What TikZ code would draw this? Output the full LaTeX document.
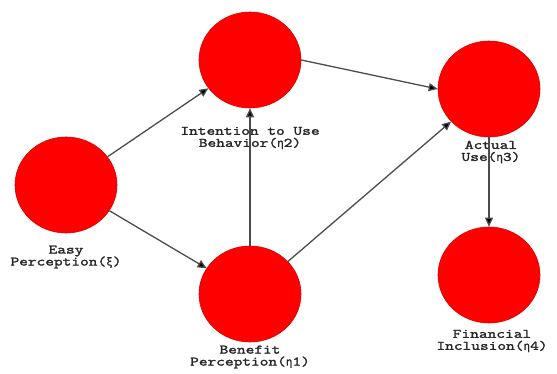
\documentclass[tikz,border=0pt]{standalone}
\usepackage{fontspec}
\newfontfamily\labfont[FakeStretch=1.3,FakeBold=2]{Latin Modern Mono}
\newfontfamily\grkfont[FakeBold=1]{DejaVu Sans Mono}
\newcommand{\gk}[1]{{\grkfont\fontsize{11}{12}\selectfont #1}}
\usetikzlibrary{arrows.meta,shapes.geometric}
\begin{document}
\begin{tikzpicture}[x=1pt,y=-1pt,
  construct/.style={ellipse,fill=red,draw=red!85!black,line width=0.6pt,
    minimum width=102pt,minimum height=96pt,inner sep=0pt},
  lab/.style={font=\labfont\fontsize{13}{12}\selectfont,text=black!85,
    align=center,inner sep=0pt},
  conn/.style={draw=black!70,line width=1.3pt,
    -{Triangle[length=9pt,width=8pt,fill=black]}}]
\path[use as bounding box] (0,0) rectangle (557,374);
\node[construct] (E) at (66,185) {};
\node[construct] (I) at (250,60) {};
\node[construct] (B) at (250,294) {};
\node[construct] (A) at (489,89) {};
\node[construct] (F) at (489,275) {};
\node[lab] (LE) at (66,257) {Easy\\Perception(\gk{ξ})};
\node[lab] (LI) at (250,138) {Intention to Use\\Behavior(\gk{η}2)};
\node[lab] (LB) at (250,357) {Benefit\\Perception(\gk{η}1)};
\node[lab] (LA) at (491,152) {Actual\\Use(\gk{η}3)};
\node[lab] (LF) at (492,341) {Financial\\Inclusion(\gk{η}4)};
\draw[conn] (E) -- (I);
\draw[conn] (E) -- (B);
\draw[conn] (B) -- (I);
\draw[conn] (B) -- (A);
\draw[conn] (I.east) -- (A.west);
\draw[conn] (A) -- (F);
\end{tikzpicture}
\end{document}
